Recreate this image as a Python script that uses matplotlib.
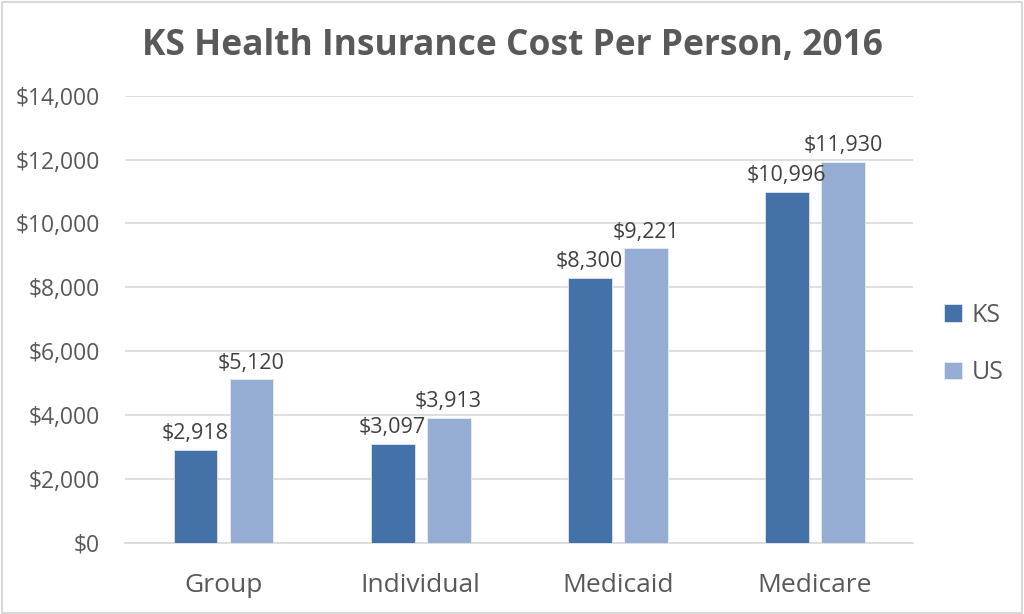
import numpy as np
import matplotlib
matplotlib.use("Agg")
import matplotlib.pyplot as plt
from matplotlib.patches import Rectangle

categories = ["Group", "Individual", "Medicaid", "Medicare"]
ks_values = [2918, 3097, 8300, 10996]
us_values = [5120, 3913, 9221, 11930]
series_names = ["KS", "US"]
y_ticks = [0, 2000, 4000, 6000, 8000, 10000, 12000, 14000]

plt.rcParams['font.family'] = ['Open Sans', 'DejaVu Sans']

fig = plt.figure(figsize=(10.24, 6.14), dpi=100)
fig.patches.append(Rectangle((0.002, 0.002), 0.996, 0.994, transform=fig.transFigure,
                             fill=False, edgecolor='#d9d9d9', linewidth=1.5))
ax = fig.add_axes([0.122, 0.116, 0.770, 0.728])

x = np.arange(len(categories))
w = 0.223
off = 0.142
colors = ['#4472a8', '#95acd3']
b1 = ax.bar(x - off, ks_values, w, color=colors[0], edgecolor='#dde5f0', linewidth=0.6, label=series_names[0], zorder=3)
b2 = ax.bar(x + off, us_values, w, color=colors[1], edgecolor='#e6ecf5', linewidth=0.6, label=series_names[1], zorder=3)

for bars in (b1, b2):
    for b in bars:
        ax.annotate("${:,.0f}".format(b.get_height()),
                    (b.get_x() + b.get_width() / 2, b.get_height()),
                    xytext=(0, 4), textcoords='offset points',
                    ha='center', va='bottom', fontsize=15.5, color='#404040')

ax.set_xlim(-0.5, 3.5)
ax.set_ylim(0, 14000)
ax.set_yticks(y_ticks)
ax.set_yticklabels(["${:,.0f}".format(v) for v in y_ticks], fontsize=16.5, color='#595959')
ax.set_xticks(x)
ax.set_xticklabels(categories, fontsize=19, color='#595959')
ax.tick_params(axis='both', length=0)
ax.tick_params(axis='x', pad=22)
ax.tick_params(axis='y', pad=18)
ax.grid(axis='y', color='#d9d9d9', linewidth=1.2, zorder=0)
for s in ['top', 'right', 'left']:
    ax.spines[s].set_visible(False)
ax.spines['bottom'].set_color('#d9d9d9')
ax.spines['bottom'].set_linewidth(1.2)

fig.suptitle("KS Health Insurance Cost Per Person, 2016", x=0.5, y=0.955,
             fontsize=25.5, fontweight='bold', color='#595959')

fig.legend(handles=[b1, b2], labels=series_names, loc='center left',
           bbox_to_anchor=(0.9, 0.44), frameon=False, fontsize=18,
           labelcolor='#595959', handlelength=0.7, handleheight=0.7,
           handletextpad=0.4, labelspacing=1.3)

fig.savefig("out.png", dpi=100)
